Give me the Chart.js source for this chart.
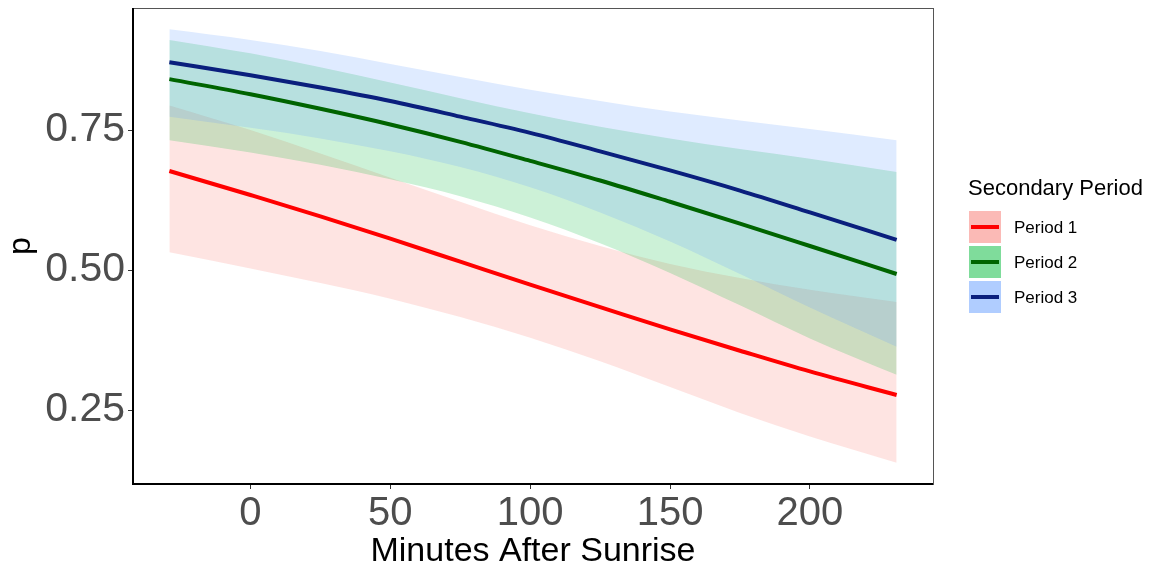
<!DOCTYPE html>
<html>
<head>
<meta charset="utf-8">
<script src="https://cdn.jsdelivr.net/npm/chart.js@4.4.1/dist/chart.umd.min.js"></script>
<style>
  html, body { margin: 0; padding: 0; background: #fff; }
  #wrap { width: 1149px; height: 569px; position: relative; }
</style>
</head>
<body>
<div id="wrap"><canvas id="chart" width="1149" height="569"></canvas></div>
<script>
// ===============================
// Dados
// ===============================
const minutes = [-29, 0, 25, 50, 75, 100, 125, 150, 175, 200, 231];

const p1Fit = [0.677, 0.634, 0.596, 0.556, 0.515, 0.474, 0.434, 0.394, 0.356, 0.319, 0.277];
const p1Low = [0.532, 0.503, 0.477, 0.449, 0.416, 0.379, 0.337, 0.291, 0.245, 0.203, 0.156];
const p1High = [0.794, 0.750, 0.708, 0.665, 0.622, 0.580, 0.543, 0.511, 0.486, 0.465, 0.443];

const p2Fit = [0.841, 0.814, 0.788, 0.760, 0.729, 0.695, 0.660, 0.622, 0.583, 0.543, 0.493];
const p2Low = [0.732, 0.710, 0.688, 0.662, 0.632, 0.594, 0.548, 0.495, 0.437, 0.378, 0.313];
const p2High = [0.911, 0.887, 0.862, 0.835, 0.807, 0.780, 0.756, 0.735, 0.716, 0.699, 0.675];

const p3Fit = [0.871, 0.848, 0.826, 0.802, 0.774, 0.745, 0.712, 0.678, 0.642, 0.603, 0.554];
const p3Low = [0.774, 0.754, 0.735, 0.712, 0.684, 0.648, 0.603, 0.551, 0.493, 0.433, 0.363];
const p3High = [0.930, 0.911, 0.891, 0.868, 0.845, 0.822, 0.802, 0.783, 0.767, 0.752, 0.732];

const periodNames = ["Period 1", "Period 2", "Period 3"];
const xTicks = [0, 50, 100, 150, 200];
const yTicks = [0.25, 0.5, 0.75];

// cores (ggplot padrão + linhas escuras)
const lineColors = ["#ff0000", "#006400", "#0a1f7d"];
const bandColors = ["rgba(248,118,109,0.2)", "rgba(0,186,56,0.2)", "rgba(97,156,255,0.2)"];
const keyColors = ["rgba(248,118,109,0.5)", "rgba(0,186,56,0.5)", "rgba(97,156,255,0.5)"];

const FONT = "'Liberation Sans', Arial, sans-serif";

// ===============================
// Helpers
// ===============================
const pts = (ys) => minutes.map((m, i) => ({ x: m, y: ys[i] }));

const bandPair = (low, high, color, idx) => [
  {
    label: "low" + idx,
    data: pts(low),
    borderWidth: 0,
    pointRadius: 0,
    fill: false,
    cubicInterpolationMode: "monotone",
    order: 10 - idx
  },
  {
    label: "high" + idx,
    data: pts(high),
    borderWidth: 0,
    pointRadius: 0,
    backgroundColor: color,
    fill: "-1",
    cubicInterpolationMode: "monotone",
    order: 10 - idx
  }
];

const lineSet = (ys, color, idx) => ({
  label: periodNames[idx],
  data: pts(ys),
  borderColor: color,
  borderWidth: 4,
  pointRadius: 0,
  fill: false,
  cubicInterpolationMode: "monotone",
  order: 3 - idx
});

const datasets = [
  ...bandPair(p1Low, p1High, bandColors[0], 0),
  ...bandPair(p2Low, p2High, bandColors[1], 1),
  ...bandPair(p3Low, p3High, bandColors[2], 2),
  lineSet(p1Fit, lineColors[0], 0),
  lineSet(p2Fit, lineColors[1], 1),
  lineSet(p3Fit, lineColors[2], 2)
];

// moldura do painel (cinza em cima/direita)
const panelBorder = {
  id: "panelBorder",
  afterDraw(chart) {
    const { ctx, chartArea: a } = chart;
    ctx.save();
    ctx.strokeStyle = "#555";
    ctx.lineWidth = 1;
    ctx.strokeRect(a.left + 0.5, a.top + 0.5, a.right - a.left, a.bottom - a.top);
    ctx.strokeStyle = "#000";
    ctx.lineWidth = 2;
    ctx.beginPath();
    ctx.moveTo(a.left, a.top);
    ctx.lineTo(a.left, a.bottom);
    ctx.lineTo(a.right, a.bottom);
    ctx.stroke();
    ctx.restore();
  }
};

// legenda no estilo ggplot
const sideLegend = {
  id: "sideLegend",
  afterDraw(chart) {
    const { ctx } = chart;
    const x0 = 969;
    ctx.save();
    ctx.fillStyle = "#000";
    ctx.font = "22px " + FONT;
    ctx.textBaseline = "middle";
    ctx.textAlign = "left";
    ctx.fillText("Secondary Period", x0 - 1, 189);
    const tops = [211, 246, 281];
    periodNames.forEach((name, i) => {
      const t = tops[i];
      ctx.fillStyle = keyColors[i];
      ctx.fillRect(x0, t, 32, 32);
      ctx.strokeStyle = lineColors[i];
      ctx.lineWidth = 4;
      ctx.beginPath();
      ctx.moveTo(x0 + 2, t + 16);
      ctx.lineTo(x0 + 30, t + 16);
      ctx.stroke();
      ctx.fillStyle = "#000";
      ctx.font = "17px " + FONT;
      ctx.fillText(name, x0 + 45, t + 17);
    });
    ctx.restore();
  }
};

new Chart(document.getElementById("chart").getContext("2d"), {
  type: "line",
  data: { datasets },
  options: {
    responsive: false,
    animation: false,
    layout: { padding: { top: 8, right: 216, left: 0, bottom: 0 } },
    plugins: {
      legend: { display: false },
      tooltip: { enabled: false },
      filler: { propagate: false }
    },
    scales: {
      x: {
        type: "linear",
        min: -42,
        max: 244,
        afterBuildTicks: (s) => { s.ticks = xTicks.map(v => ({ value: v })); },
        afterFit: (s) => { s.height = 85; s.paddingLeft = 0; s.paddingRight = 0; },
        grid: { drawOnChartArea: false, tickLength: 5, tickColor: "#333", tickWidth: 1 },
        border: { display: false },
        ticks: {
          color: "#4d4d4d",
          padding: 1,
          font: { family: FONT, size: 40 },
          maxRotation: 0
        },
        title: {
          display: true,
          text: "Minutes After Sunrise",
          color: "#000",
          padding: { top: 0, bottom: 0 },
          font: { family: FONT, size: 34, lineHeight: 1.05 }
        }
      },
      y: {
        min: 0.118,
        max: 0.968,
        afterBuildTicks: (s) => { s.ticks = yTicks.map(v => ({ value: v })); },
        afterFit: (s) => { s.width = 133; s.paddingTop = 0; s.paddingBottom = 0; },
        grid: { drawOnChartArea: false, tickLength: 5, tickColor: "#333", tickWidth: 1 },
        border: { display: false },
        ticks: {
          color: "#4d4d4d",
          padding: 3,
          font: { family: FONT, size: 41 },
          callback: (v) => v.toFixed(2)
        },
        title: {
          display: true,
          text: "p",
          color: "#000",
          padding: { top: 2, bottom: 0 },
          font: { family: FONT, size: 32 }
        }
      }
    }
  },
  plugins: [panelBorder, sideLegend]
});
</script>
</body>
</html>
